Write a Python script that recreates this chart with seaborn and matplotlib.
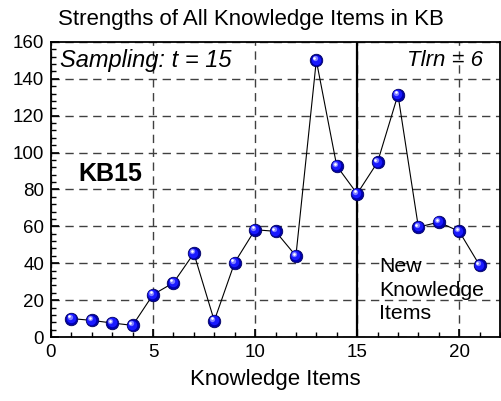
import numpy as np
import pandas as pd
import matplotlib
matplotlib.use("Agg")
import matplotlib.pyplot as plt
import matplotlib.transforms as mtransforms
from matplotlib.ticker import MultipleLocator
import seaborn as sns

items = list(range(1, 22))
strengths = [10, 9, 7.6, 6.3, 23, 29.4, 45.4, 8.8, 40.4, 58.2, 57.3, 44,
             150, 92.8, 77.7, 94.8, 131.4, 59.6, 62.3, 57.3, 38.9]
title = "Strengths of All Knowledge Items in KB"
xlabel = "Knowledge Items"
sample_t = 15

df = pd.DataFrame({"item": items, "strength": strengths})

sns.set_theme(style="white")
plt.rcParams['font.family'] = ['Liberation Sans', 'DejaVu Sans']
plt.rcParams['text.color'] = 'black'
plt.rcParams['axes.labelcolor'] = 'black'
plt.rcParams['xtick.color'] = 'black'
plt.rcParams['ytick.color'] = 'black'

fig = plt.figure(figsize=(5.01, 4.01), dpi=100)
ax = fig.add_axes([51/501, 1 - 337/401, 449/501, (337-42)/401])

ax.grid(True, which='major', color='#404040', linestyle=(0, (6, 4)), linewidth=1.0)
ax.set_axisbelow(True)
ax.axvline(sample_t, color='black', linewidth=1.6, zorder=2)

sns.lineplot(data=df, x="item", y="strength", ax=ax, color='black', linewidth=0.8,
             zorder=3, legend=False)
# sphere-like markers
ax.plot(df["item"], df["strength"], linestyle='none', marker='o', markersize=9,
        markerfacecolor='#0000b0', markeredgecolor='#000060', markeredgewidth=0.6, zorder=4)
off1 = mtransforms.offset_copy(ax.transData, fig=fig, x=-0.5, y=0.5, units='points')
ax.plot(df["item"], df["strength"], linestyle='none', marker='o', markersize=6.8,
        markerfacecolor='#1a1aff', markeredgewidth=0, zorder=5, transform=off1)
off2 = mtransforms.offset_copy(ax.transData, fig=fig, x=-1.3, y=1.4, units='points')
ax.plot(df["item"], df["strength"], linestyle='none', marker='o', markersize=3.8,
        markerfacecolor='#8080ff', markeredgewidth=0, zorder=6, transform=off2)
off3 = mtransforms.offset_copy(ax.transData, fig=fig, x=-1.6, y=1.7, units='points')
ax.plot(df["item"], df["strength"], linestyle='none', marker='o', markersize=1.9,
        markerfacecolor='white', markeredgewidth=0, zorder=7, transform=off3)

ax.set_xlim(0, 22)
ax.set_ylim(0, 160)
ax.xaxis.set_major_locator(MultipleLocator(5))
ax.xaxis.set_minor_locator(MultipleLocator(1))
ax.yaxis.set_major_locator(MultipleLocator(20))
ax.yaxis.set_minor_locator(MultipleLocator(4))
ax.tick_params(axis='both', which='major', direction='in', length=6, width=1.2,
               labelsize=13.5, colors='black', bottom=True, left=True, top=False, right=False, pad=5)
ax.tick_params(axis='both', which='minor', direction='in', length=3.5, width=1.0,
               bottom=True, left=True, top=False, right=False)
for s in ax.spines.values():
    s.set_color('black')
    s.set_linewidth(1.3)

ax.set_xlabel(xlabel, fontsize=16, color='black', labelpad=6)
ax.set_ylabel("")
ax.set_title(title, fontsize=16, color='black', pad=12, x=(250.5 - 51) / 449)

ax.text(0.02, 0.975, f"Sampling: t = {sample_t}", transform=ax.transAxes, fontsize=17,
        style='italic', ha='left', va='top')
ax.text(0.963, 0.972, "Tlrn = 6", transform=ax.transAxes, fontsize=16,
        style='italic', ha='right', va='top')
ax.text(0.06, 0.553, "KB15", transform=ax.transAxes, fontsize=18, fontweight='bold',
        ha='left', va='center')
ax.text(0.7305, 0.27, "New\nKnowledge\nItems", transform=ax.transAxes, fontsize=15.3,
        ha='left', va='top', linespacing=1.3)

fig.savefig("out.png", dpi=100)
